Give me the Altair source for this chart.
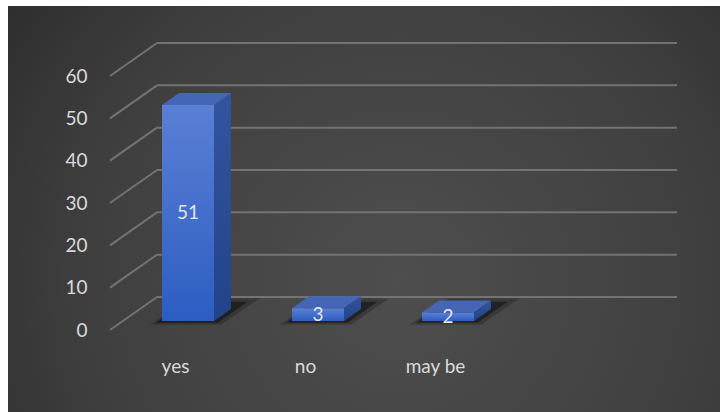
import json
import altair as alt
import pandas as pd

# ---- data ----
categories = ["yes", "no", "may be"]
values = [51, 3, 2]
y_ticks = [0, 10, 20, 30, 40, 50, 60]
n_slots = 4          # Excel chart has a 4th (empty) category slot
y_max = 60

# ---- layout / style (pixels) ----
W, H = 520, 254
PX_X = W / n_slots
PX_Y = H / y_max
WALL_DX, WALL_DY = 47, 33      # depth of the 3D box
SHIFT_DX, SHIFT_DY = 13, 9     # bars sit a bit behind the front plane
BAR_DX, BAR_DY = 17, 12        # depth of each bar
BAR_W = 52
FONT = "Lato"
TXT = "#dadada"
FS = 19


def ux(px):
    return px / PX_X


def uy(px):
    return px / PX_Y


centers = [i + 0.5 for i in range(len(categories))]
sx, sy = ux(SHIFT_DX), uy(SHIFT_DY)
bdx, bdy = ux(BAR_DX), uy(BAR_DY)
hw = ux(BAR_W / 2)

front = pd.DataFrame({
    "cat": categories,
    "v": values,
    "x1": [c - hw + sx for c in centers],
    "x2": [c + hw + sx for c in centers],
    "y1": [sy] * len(values),
    "y2": [v + sy for v in values],
    "xc": [c + sx for c in centers],
    "ym": [v / 2 + sy for v in values],
})

side_rows, top_rows, shadow_rows, shadow2_rows = [], [], [], []
for cat, v, c in zip(categories, values, centers):
    xl, xr = c - hw + sx, c + hw + sx
    top = v + sy
    side_rows += [
        {"cat": cat, "x": xr, "lo": sy, "hi": top},
        {"cat": cat, "x": xr + bdx, "lo": sy + bdy, "hi": top + bdy},
    ]
    top_rows += [
        {"cat": cat, "x": xl, "lo": top, "hi": top},
        {"cat": cat, "x": xl + bdx, "lo": top, "hi": top + bdy},
        {"cat": cat, "x": xr, "lo": top, "hi": top + bdy},
        {"cat": cat, "x": xr + bdx, "lo": top + bdy, "hi": top + bdy},
    ]
    for rows, grow, ddx, ddy in ((shadow_rows, 6, 30, 21), (shadow2_rows, 12, 38, 26)):
        ax = xl - ux(grow)
        ay = sy - uy(grow * 0.3)
        fw = hw * 2 + ux(grow * 1.6)
        dx, dy = ux(ddx), uy(ddy)
        rows += [
            {"cat": cat, "x": ax, "lo": ay, "hi": ay},
            {"cat": cat, "x": ax + dx, "lo": ay, "hi": ay + dy},
            {"cat": cat, "x": ax + fw, "lo": ay, "hi": ay + dy},
            {"cat": cat, "x": ax + fw + dx, "lo": ay + dy, "hi": ay + dy},
        ]

side = pd.DataFrame(side_rows)
topf = pd.DataFrame(top_rows)
shadow = pd.DataFrame(shadow_rows)
shadow2 = pd.DataFrame(shadow2_rows)

grid = pd.DataFrame({
    "t": y_ticks,
    "fx": [0.0] * len(y_ticks),
    "bx": [ux(WALL_DX)] * len(y_ticks),
    "bx2": [n_slots + ux(WALL_DX)] * len(y_ticks),
    "by": [t + uy(WALL_DY) for t in y_ticks],
})

xscale = alt.Scale(domain=[0, n_slots], nice=False, zero=False)
yscale = alt.Scale(domain=[0, y_max], nice=False)

label_expr = f"{json.dumps(categories)}[floor(datum.value)]"

X_AXIS = alt.Axis(values=centers, labelExpr=label_expr, title=None, grid=False,
                  domain=False, ticks=False, labelFontSize=FS, labelColor=TXT,
                  labelFont=FONT, labelPadding=27, labelFlush=False, labelOverlap=False,
                  zindex=2)
Y_AXIS = alt.Axis(values=y_ticks, title=None, grid=False, domain=False, ticks=False,
                  labelFontSize=FS, labelColor=TXT, labelFont=FONT, labelPadding=23,
                  zindex=2)

bg_grad = {
    "gradient": "radial", "x1": 0.55, "y1": 0.6, "x2": 0.55, "y2": 0.6,
    "r1": 0, "r2": 0.8,
    "stops": [{"offset": 0, "color": "#4e4e4e"}, {"offset": 0.55, "color": "#3f3f3f"},
              {"offset": 1, "color": "#252525"}],
}
front_grad = {
    "gradient": "linear", "x1": 0, "y1": 0, "x2": 0, "y2": 1,
    "stops": [{"offset": 0, "color": "#5a80d4"}, {"offset": 1, "color": "#2d5dc2"}],
}
side_grad = {
    "gradient": "linear", "x1": 0, "y1": 0, "x2": 0, "y2": 1,
    "stops": [{"offset": 0, "color": "#33559f"}, {"offset": 1, "color": "#21438a"}],
}

background = alt.Chart(pd.DataFrame({"a": [0]})).mark_rect(color=bg_grad).encode(
    x=alt.value(-102), x2=alt.value(610), y=alt.value(-70), y2=alt.value(336)
)

back_lines = alt.Chart(grid).mark_rule(color="#737373", strokeWidth=2).encode(
    x=alt.X("bx:Q", scale=xscale, axis=X_AXIS), x2="bx2:Q",
    y=alt.Y("by:Q", scale=yscale, axis=Y_AXIS), y2="by:Q",
)
diag_lines = alt.Chart(grid).mark_rule(color="#737373", strokeWidth=2).encode(
    x=alt.X("fx:Q", scale=xscale), x2="bx:Q",
    y=alt.Y("t:Q", scale=yscale), y2="by:Q",
)


def area_layer(df, color, opacity=1.0):
    return alt.Chart(df).mark_area(color=color, opacity=opacity, orient="vertical",
                                   interpolate="linear").encode(
        x=alt.X("x:Q", scale=xscale),
        y=alt.Y("lo:Q", scale=yscale, stack=None), y2="hi:Q",
        detail="cat:N",
    )


shadow_soft = area_layer(shadow2, "#000000", 0.22)
shadow_hard = area_layer(shadow, "#000000", 0.4)
side_face = area_layer(side, side_grad)
top_face = area_layer(topf, "#4466b5")

front_face = alt.Chart(front).mark_rect(color=front_grad).encode(
    x=alt.X("x1:Q", scale=xscale), x2="x2:Q",
    y=alt.Y("y1:Q", scale=yscale), y2="y2:Q",
)

labels = alt.Chart(front).mark_text(color="#e6e6e6", fontSize=FS, font=FONT,
                                    align="center", baseline="middle").encode(
    x=alt.X("xc:Q", scale=xscale), y=alt.Y("ym:Q", scale=yscale), text="v:Q",
)

chart = alt.layer(
    background, back_lines, diag_lines, shadow_soft, shadow_hard,
    side_face, top_face, front_face, labels,
).properties(
    width=W, height=H,
    padding={"left": 110, "top": 76, "right": 90, "bottom": 82},
    autosize=alt.AutoSizeParams(type="none"),
    background="white",
).configure_view(stroke=None)

chart.save("out.html", embed_options={"renderer": "svg", "actions": False})
